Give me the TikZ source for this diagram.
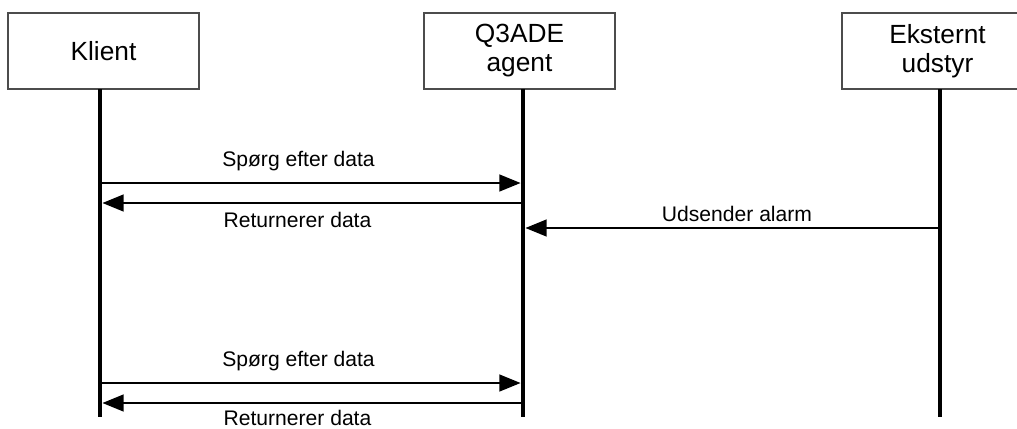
\documentclass[tikz,border=0pt]{standalone}
\usepackage{fontspec}
\setmainfont{Liberation Sans}
\usetikzlibrary{arrows.meta}
\begin{document}
\begin{tikzpicture}[x=0.025cm, y=-0.025cm,
  actor/.style = {draw=black!70, line width=0.8pt, fill=white, inner sep=0pt, minimum width=4.775cm, minimum height=1.9cm, align=center, font=\fontsize{18.7}{20.6}\selectfont},
  life/.style = {line width=3.5pt},
  msg/.style = {line width=1.05pt, -{Triangle[length=15pt,width=12pt]}, shorten >=1.75pt},
  lbl/.style = {anchor=base, inner sep=0pt, font=\fontsize{15}{18}\selectfont}]
\useasboundingbox (0,0) rectangle (1017,428);

\node[actor] (klient) at (103.5,51) {Klient};
\node[actor] (agent) at (519.5,51) {Q3ADE\\agent};
\node[actor] (udstyr) at (937.5,51) {Eksternt\\udstyr};

\coordinate (k0) at (100,89);  \coordinate (k9) at (100,417);
\coordinate (a0) at (523,89);  \coordinate (a9) at (523,417);
\coordinate (u0) at (940,89);  \coordinate (u9) at (940,417);

\draw[life] (k0) -- (k9);
\draw[life] (a0) -- (a9);
\draw[life] (u0) -- (u9);

\coordinate (k1) at (100,183); \coordinate (a1) at (523,183);
\coordinate (k2) at (100,203); \coordinate (a2) at (523,203);
\coordinate (a3) at (523,228); \coordinate (u3) at (940,228);
\coordinate (k4) at (100,383); \coordinate (a4) at (523,383);
\coordinate (k5) at (100,403); \coordinate (a5) at (523,403);

\draw[msg] (k1) -- (a1);
\draw[msg] (a2) -- (k2);
\draw[msg] (u3) -- (a3);
\draw[msg] (k4) -- (a4);
\draw[msg] (a5) -- (k5);

\node[lbl] (sp1) at (298.5,166) {Spørg efter data};
\node[lbl] (re1) at (297.5,227) {Returnerer data};
\node[lbl] (ud) at (737,221) {Udsender alarm};
\node[lbl] (sp2) at (298.5,366) {Spørg efter data};
\node[lbl] (re2) at (297.5,425) {Returnerer data};

\end{tikzpicture}
\end{document}
